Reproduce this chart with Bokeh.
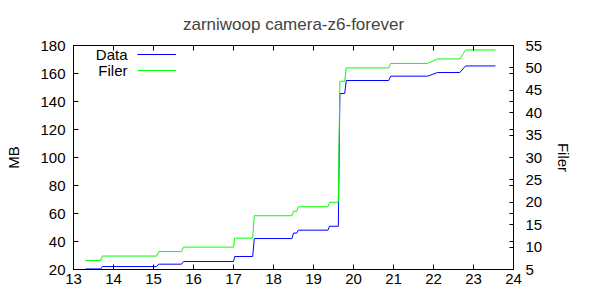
from bokeh.plotting import figure
from bokeh.models import (Range1d, LinearAxis, FixedTicker, CustomJSTickFormatter,
                          Legend, LegendItem, Label)
from bokeh.embed import file_html
from bokeh.resources import INLINE

# ---- data ----
hours = [13.30, 13.68, 13.72, 15.08, 15.13, 15.70, 15.75, 17.00, 17.03, 17.48,
         17.52, 18.46, 18.50, 18.58, 18.62, 19.36, 19.40, 19.62, 19.66, 19.78,
         19.82, 20.88, 20.93, 21.85, 22.10, 22.66, 22.80, 23.55]
data_mb = [20.4, 20.4, 22.1, 22.1, 23.8, 23.8, 25.7, 25.7, 29.3, 29.3,
           42.1, 42.1, 46.0, 46.0, 48.1, 48.1, 50.9, 50.9, 145.7, 145.7,
           155.0, 155.0, 158.1, 158.1, 160.7, 160.7, 165.4, 165.4]
filer = [7, 7, 8, 8, 9, 9, 10, 10, 12, 12,
         17, 17, 18, 18, 19, 19, 20, 20, 47, 47,
         50, 50, 51, 51, 52, 52, 54, 54]

x_ticks = list(range(13, 25))
mb_ticks = list(range(20, 181, 20))
filer_ticks = list(range(5, 56, 5))

title_text = "zarniwoop camera-z6-forever"
FONT = "Liberation Sans"
FS = "15px"

MB_MIN, MB_MAX = 20, 180
F_MIN, F_MAX = 5, 55

p = figure(width=600, height=300, output_backend="svg", toolbar_location=None,
           x_range=Range1d(13, 24), y_range=Range1d(MB_MIN, MB_MAX),
           min_border_left=73, min_border_right=87, min_border_top=45,
           min_border_bottom=31, title=title_text)
p.extra_y_ranges = {"filer": Range1d(F_MIN, F_MAX)}

p.title.align = "center"
p.title.text_font = FONT
p.title.text_font_size = "17px"
p.title.text_font_style = "normal"
p.title.offset = 13
p.title.standoff = 23

p.grid.visible = False
p.outline_line_color = "black"
p.outline_line_width = 1
p.background_fill_color = "white"
p.border_fill_color = "white"

def style_axis(ax, tick_len=5):
    ax.axis_line_color = "black"
    ax.major_tick_in = tick_len
    ax.major_tick_out = 0
    ax.minor_tick_in = 0
    ax.minor_tick_out = 0
    ax.major_label_text_font = FONT
    ax.major_label_text_font_size = FS
    ax.major_label_text_color = "black"
    ax.axis_label_text_font = FONT
    ax.axis_label_text_font_size = FS
    ax.axis_label_text_font_style = "normal"
    ax.axis_label_text_color = "black"

# bottom x axis
xa = p.xaxis[0]
xa.ticker = FixedTicker(ticks=x_ticks)
style_axis(xa)
xa.major_label_standoff = 4

# left y axis
ya = p.yaxis[0]
ya.ticker = FixedTicker(ticks=mb_ticks)
style_axis(ya)
ya.major_label_standoff = 8
ya.axis_label = "MB"
ya.axis_label_standoff = 15

# top mirror axis (ticks only)
top = LinearAxis(ticker=FixedTicker(ticks=x_ticks),
                 formatter=CustomJSTickFormatter(code="return ''"))
style_axis(top)
top.major_label_standoff = 0
p.add_layout(top, "above")

# right axis: Filer ticks with mirrored MB ticks as minor ticks
mirror = [F_MIN + (m - MB_MIN) * (F_MAX - F_MIN) / (MB_MAX - MB_MIN) for m in mb_ticks]
ra = LinearAxis(y_range_name="filer",
                ticker=FixedTicker(ticks=filer_ticks, minor_ticks=mirror),
                axis_label="Filer")
style_axis(ra, 4)
ra.minor_tick_in = 4
ra.minor_tick_out = 0
ra.major_label_standoff = 12
ra.axis_label_standoff = 10
p.add_layout(ra, "right")

r_data = p.line(hours, data_mb, line_color="#0000ff", line_width=1)
r_filer = p.line(hours, filer, line_color="#00ff00", line_width=1, y_range_name="filer")

legend = Legend(items=[LegendItem(label=" ", renderers=[r_data]),
                       LegendItem(label=" ", renderers=[r_filer])],
                location=(64, 191), padding=0, margin=0, spacing=0,
                glyph_width=39, glyph_height=16, label_height=16, label_width=1,
                label_standoff=0, label_text_font_size="1px",
                border_line_color=None, background_fill_alpha=0)
p.add_layout(legend, "center")

for txt, yy in (("Data", 215), ("Filer", 199)):
    p.add_layout(Label(x=54, y=yy, x_units="screen", y_units="screen", text=txt,
                       text_align="right", text_baseline="middle",
                       text_font=FONT, text_font_size=FS, text_color="black"))

open("out.html", "w").write(file_html(p, INLINE))
